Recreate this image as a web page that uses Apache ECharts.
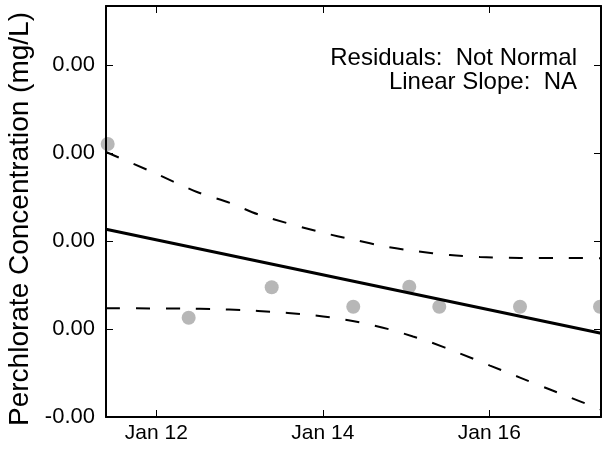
<!DOCTYPE html>
<html>
<head>
<meta charset="utf-8">
<script src="https://cdn.jsdelivr.net/npm/echarts@6/dist/echarts.min.js"></script>
<style>
  html, body { margin: 0; padding: 0; background: #fff; }
  #chart { width: 602px; height: 450px; }
</style>
</head>
<body>
<div id="chart"></div>
<script>
// measured samples
var sampleDates = ['2015-01-11 09:59', '2015-01-12 09:20', '2015-01-13 09:16', '2015-01-14 08:47',
    '2015-01-15 00:56', '2015-01-15 09:35', '2015-01-16 08:51', '2015-01-17 07:55'];
var sampleValues = [0.002102, 0.000128, 0.000474, 0.000253, 0.000481, 0.000253, 0.000253, 0.000253];

// linear fit (end points)
var fitDates = ['2015-01-11 09:30', '2015-01-17 08:12'];
var fitValues = [0.001133, -0.000049];

// confidence band
var upperDates = ['2015-01-11 09:30', '2015-01-11 22:11', '2015-01-12 11:44', '2015-01-12 21:15',
    '2015-01-13 05:54', '2015-01-13 23:11', '2015-01-14 09:17', '2015-01-14 17:56', '2015-01-15 02:35',
    '2015-01-15 12:40', '2015-01-15 21:19', '2015-01-16 08:51', '2015-01-16 20:23', '2015-01-17 08:12'];
var upperValues = [0.002011, 0.001795, 0.001557, 0.001432, 0.001295, 0.001102, 0.001011, 0.000938,
    0.000886, 0.000841, 0.000818, 0.000807, 0.000807, 0.000803];

var lowerDates = ['2015-01-11 09:30', '2015-01-11 22:11', '2015-01-12 08:16', '2015-01-12 16:55',
    '2015-01-13 01:00', '2015-01-13 09:39', '2015-01-13 18:17', '2015-01-14 02:56', '2015-01-14 10:43',
    '2015-01-14 19:22', '2015-01-15 02:00', '2015-01-15 06:54', '2015-01-15 15:33', '2015-01-16 00:12',
    '2015-01-16 08:51', '2015-01-16 17:30', '2015-01-17 02:09', '2015-01-17 08:12'];
var lowerValues = [0.000235, 0.000234, 0.000232, 0.000225, 0.000214, 0.000195, 0.000168, 0.000128,
    0.000074, -0.000006, -0.000085, -0.000148, -0.000278, -0.000416, -0.000552, -0.000688, -0.000822, -0.000916];

var xTickDates = ['2015-01-12 00:00', '2015-01-14 00:00', '2015-01-16 00:00'];
var yTicks = [-0.001, 0, 0.001, 0.002, 0.003];

var xMin = '2015-01-11 09:30';
var xMax = '2015-01-17 08:12';
var yMin = -0.001;
var yMax = 0.00367;

var yTitle = 'Perchlorate Concentration (mg/L)';
var notes = ['Residuals:  Not Normal', 'Linear Slope:  NA'];

var monthNames = ['Jan', 'Feb', 'Mar', 'Apr', 'May', 'Jun', 'Jul', 'Aug', 'Sep', 'Oct', 'Nov', 'Dec'];

function toTime(s) {
    var p = s.split(/[- :]/);
    return new Date(+p[0], +p[1] - 1, +p[2], +p[3], +p[4]).getTime();
}

function pairs(dates, values) {
    var out = [];
    for (var i = 0; i < dates.length; i++) {
        out.push([toTime(dates[i]), values[i]]);
    }
    return out;
}

var xTicks = xTickDates.map(toTime);
var font = 'Liberation Sans';

var chart = echarts.init(document.getElementById('chart'));

function frameAxis(pos) {
    return {
        type: 'value',
        position: pos,
        min: (pos == 'top') ? toTime(xMin) : yMin,
        max: (pos == 'top') ? toTime(xMax) : yMax,
        z: 10,
        axisLine: { show: true, onZero: false, lineStyle: { color: '#000', width: 2 } },
        axisTick: {
            inside: true, length: 7,
            customValues: (pos == 'top') ? xTicks : yTicks,
            lineStyle: { color: '#000', width: 1 }
        },
        axisLabel: { show: false },
        splitLine: { show: false }
    };
}

var option = {
    animation: false,
    backgroundColor: '#fff',
    textStyle: { fontFamily: font },
    grid: { left: 106, right: 1, top: 6, bottom: 33, containLabel: false },
    xAxis: [
        {
            type: 'value',
            min: toTime(xMin),
            max: toTime(xMax),
            z: 10,
            axisLine: { onZero: false, lineStyle: { color: '#000', width: 2 } },
            axisTick: { inside: true, length: 7, customValues: xTicks, lineStyle: { color: '#000', width: 1 } },
            axisLabel: {
                customValues: xTicks,
                margin: 6,
                color: '#000',
                fontSize: 21,
                fontFamily: font,
                formatter: function (v) {
                    var d = new Date(v);
                    return monthNames[d.getMonth()] + ' ' + d.getDate();
                }
            },
            splitLine: { show: false }
        },
        frameAxis('top')
    ],
    yAxis: [
        {
            type: 'value',
            min: yMin,
            max: yMax,
            z: 10,
            axisLine: { onZero: false, lineStyle: { color: '#000', width: 2 } },
            axisTick: { inside: true, length: 7, customValues: yTicks, lineStyle: { color: '#000', width: 1 } },
            axisLabel: {
                customValues: yTicks,
                margin: 11,
                color: '#000',
                fontSize: 22,
                fontFamily: font,
                formatter: function (v) { return v.toFixed(2); }
            },
            splitLine: { show: false }
        },
        frameAxis('right')
    ],
    graphic: [
        {
            type: 'text',
            x: 20,
            y: 219,
            rotation: Math.PI / 2,
            style: {
                text: yTitle,
                align: 'center',
                verticalAlign: 'middle',
                fill: '#000',
                font: '28px "Liberation Sans"'
            }
        },
        {
            type: 'text',
            x: 577,
            y: 46,
            style: {
                text: notes[0],
                align: 'right',
                verticalAlign: 'alphabetic',
                fill: '#000',
                font: '24px "Liberation Sans"'
            }
        },
        {
            type: 'text',
            x: 577,
            y: 70,
            style: {
                text: notes[1],
                align: 'right',
                verticalAlign: 'alphabetic',
                fill: '#000',
                font: '24px "Liberation Sans"'
            }
        }
    ],
    series: [
        {
            name: 'samples',
            type: 'scatter',
            clip: true,
            symbolSize: 14,
            itemStyle: { color: '#a5a5a5' },
            data: pairs(sampleDates, sampleValues),
            z: 1
        },
        {
            name: 'fit',
            type: 'line',
            symbol: 'none',
            lineStyle: { color: '#000', width: 3 },
            data: pairs(fitDates, fitValues),
            z: 3
        },
        {
            name: 'upper',
            type: 'line',
            smooth: 0.3,
            symbol: 'none',
            lineStyle: { color: '#000', width: 2, type: [14, 16] },
            data: pairs(upperDates, upperValues),
            z: 3
        },
        {
            name: 'lower',
            type: 'line',
            smooth: 0.3,
            symbol: 'none',
            lineStyle: { color: '#000', width: 2, type: [14, 16] },
            data: pairs(lowerDates, lowerValues),
            z: 3
        }
    ]
};

chart.setOption(option);
window.onresize = chart.resize;
</script>
</body>
</html>
